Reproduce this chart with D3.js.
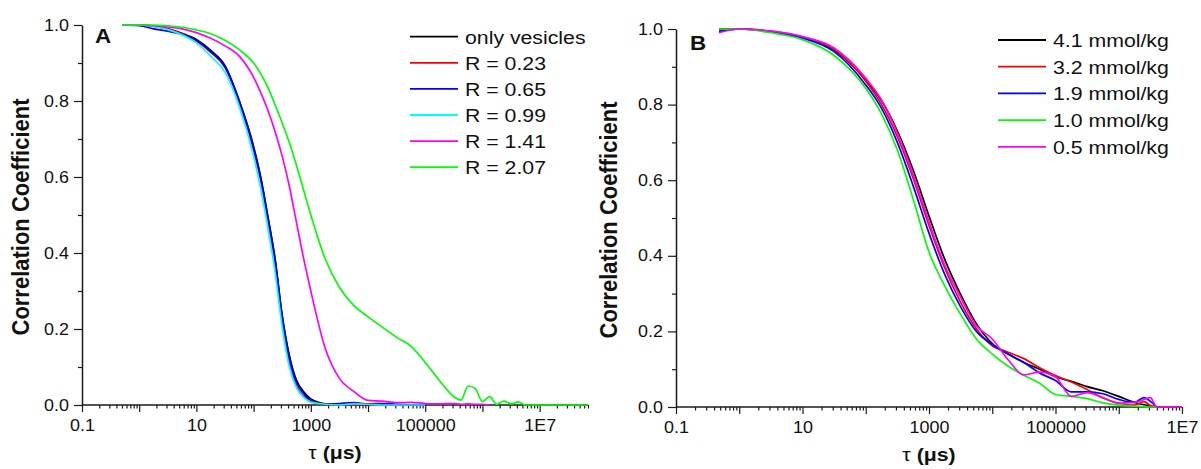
<!DOCTYPE html>
<html>
<head>
<meta charset="utf-8">
<script src="https://cdn.jsdelivr.net/npm/d3@7"></script>
<style>
  body { margin: 0; background: #fff; }
  svg text { font-family: Arial, "Liberation Sans", sans-serif; fill: #111; }
</style>
</head>
<body>
<div id="chart"></div>
<script>
// ---- data ----
const tauA = [0.5, 1, 1.78, 3.16, 5.62, 10, 17.8, 31.6, 56.2, 100, 133, 178, 237, 316, 422, 562, 750,
  1000, 1780, 3160, 5620, 1e4, 1.78e4, 3.16e4, 5.62e4, 1e5, 1.78e5, 3.16e5, 4.22e5, 5.62e5, 7.5e5,
  1e6, 1.33e6, 1.78e6, 2.37e6, 3.16e6, 4.22e6, 5.62e6, 1e7, 1.78e7, 3.16e7, 7e7]

const onlyVesicles = [1.0, 1.0, 0.997, 0.99, 0.978, 0.962, 0.933, 0.893, 0.80, 0.68, 0.60, 0.495, 0.385,
  0.235, 0.13, 0.065, 0.035, 0.016, 0.003, 0.0, 0.002, 0.0, 0.001, 0.0, 0.0, 0.0]
const r023 = [1.0, 1.0, 0.997, 0.99, 0.977, 0.958, 0.928, 0.888, 0.795, 0.67, 0.59, 0.485, 0.37, 0.22,
  0.11, 0.05, 0.022, 0.008, 0.001, 0.0, 0.0, 0.0, 0.0, 0.0, 0.0, 0.0]
const r065 = [1.0, 0.998, 0.99, 0.984, 0.975, 0.96, 0.93, 0.89, 0.80, 0.677, 0.597, 0.493, 0.383, 0.233,
  0.125, 0.06, 0.03, 0.012, 0.002, 0.004, 0.006, 0.003, 0.004, 0.002, 0.0, 0.0]
const r099 = [1.0, 1.0, 0.996, 0.988, 0.974, 0.953, 0.918, 0.876, 0.785, 0.655, 0.57, 0.465, 0.35, 0.205,
  0.1, 0.045, 0.02, 0.008, 0.002, 0.0, 0.003, 0.002, 0.0, 0.0, 0.0, 0.0]
const r141 = [1.0, 1.0, 0.998, 0.995, 0.99, 0.98, 0.965, 0.945, 0.918, 0.862, 0.822, 0.775, 0.72, 0.655,
  0.575, 0.48, 0.385, 0.3, 0.15, 0.07, 0.036, 0.012, 0.01, 0.006, 0.007, 0.004, 0.003, 0.004, 0.002,
  0.003, 0.002, 0.002, 0.0]
const r207 = [1.0, 1.0, 1.0, 0.998, 0.994, 0.987, 0.977, 0.96, 0.935, 0.9, 0.872, 0.835, 0.79, 0.742,
  0.69, 0.63, 0.565, 0.5, 0.385, 0.31, 0.262, 0.232, 0.205, 0.178, 0.155, 0.112, 0.064, 0.022, 0.013,
  0.05, 0.043, 0.009, 0.022, 0.002, 0.01, 0.003, 0.008, 0.0, 0.0, 0.0, 0.0, 0.0]

const namesA = ['only vesicles', 'R = 0.23', 'R = 0.65', 'R = 0.99', 'R = 1.41', 'R = 2.07']
const colorsA = ['#000000', '#ff0000', '#0000ff', '#00ffff', '#ff00ff', '#00ff00']

const tauB = [0.48, 1, 3.16, 10, 31.6, 100, 178, 316, 562, 1000, 1780, 3160, 5620, 1e4, 1.78e4, 3.16e4,
  5.62e4, 1e5, 1.78e5, 3.16e5, 5.62e5, 1e6, 1.78e6, 2.5e6, 3.16e6, 4e6, 1e7]

const c41 = [1.0, 1.0, 0.993, 0.978, 0.944, 0.865, 0.81, 0.73, 0.627, 0.505, 0.39, 0.298, 0.22, 0.168,
  0.14, 0.118, 0.1, 0.08, 0.068, 0.054, 0.043, 0.028, 0.012, 0.006, 0.003, 0.0]
const c32 = [0.995, 1.0, 0.994, 0.979, 0.946, 0.862, 0.8, 0.715, 0.605, 0.48, 0.367, 0.277, 0.207, 0.162,
  0.145, 0.128, 0.104, 0.083, 0.066, 0.046, 0.024, 0.01, 0.005, 0.014, 0.004, 0.0]
const c19 = [0.993, 1.0, 0.993, 0.976, 0.94, 0.852, 0.79, 0.7, 0.585, 0.46, 0.35, 0.265, 0.2, 0.165,
  0.14, 0.118, 0.09, 0.07, 0.04, 0.04, 0.035, 0.02, 0.012, 0.025, 0.015, 0.0]
const c10 = [1.0, 1.0, 0.99, 0.972, 0.93, 0.843, 0.775, 0.68, 0.55, 0.41, 0.32, 0.245, 0.18, 0.14,
  0.108, 0.084, 0.063, 0.033, 0.028, 0.022, 0.011, 0.005, 0.002, 0.001, 0.0, 0.0]
const c05 = [0.99, 1.0, 0.995, 0.98, 0.95, 0.87, 0.812, 0.725, 0.615, 0.49, 0.375, 0.29, 0.215, 0.18,
  0.125, 0.085, 0.092, 0.08, 0.028, 0.038, 0.025, 0.01, 0.012, 0.02, 0.025, 0.0, 0.0]

const namesB = ['4.1 mmol/kg', '3.2 mmol/kg', '1.9 mmol/kg', '1.0 mmol/kg', '0.5 mmol/kg']
const colorsB = ['#000000', '#ff0000', '#0000ff', '#00ff00', '#ff00ff']

const xTickValues = [0.1, 10, 1000, 1e5, 1e7]
const xTickLabels = ['0.1', '10', '1000', '100000', '1E7']
const yTickValues = [0, 0.2, 0.4, 0.6, 0.8, 1.0]

// ---- layout ----
const SX = 1.12 // the figure is a little wider than tall, text included
const width = 1201
const height = 469

const panels = [
  { letter: 'A', tau: tauA, series: [onlyVesicles, r023, r065, r099, r141, r207], names: namesA, colors: colorsA,
    xDomain: [0.1, 7e7], xRange: [82, 588], yRange: [405, 25],
    letterPos: [95, 43], legend: { x: 410, y: 36.7, step: 26.1 }, yTitleX: 29, titleY: 459 },
  { letter: 'B', tau: tauB, series: [c41, c32, c19, c10, c05], names: namesB, colors: colorsB,
    xDomain: [0.1, 1e7], xRange: [676, 1182], yRange: [407, 29],
    letterPos: [690, 50], legend: { x: 998, y: 40, step: 26.7 }, yTitleX: 617, titleY: 461 }
]

const svg = d3.select('#chart').append('svg')
  .attr('width', width)
  .attr('height', height)

function stretch(sel) {
  sel.each(function() {
    const t = d3.select(this)
    const x = +t.attr('x') || 0
    const y = +t.attr('y') || 0
    t.attr('x', null).attr('y', null)
      .attr('transform', `translate(${x},${y}) scale(${SX},1)`)
  })
}

panels.forEach(function(p) {
  const x = d3.scaleLog().domain(p.xDomain).range(p.xRange)
  const y = d3.scaleLinear().domain([0, 1]).range(p.yRange)
  const g = svg.append('g')

  // minor ticks first
  const decades = []
  const minors = []
  for (let e = -1; e <= 8; e++) {
    for (let k = 1; k <= 9; k++) {
      const v = k * Math.pow(10, e)
      if (v < p.xDomain[0] || v > p.xDomain[1] * 1.0001) continue
      if (k === 1) { if (xTickValues.indexOf(v) < 0) decades.push(v) }
      else minors.push(v)
    }
  }

  const y0 = p.yRange[0]
  const x0 = p.xRange[0]

  g.append('g')
    .attr('transform', `translate(0,${y0})`)
    .call(d3.axisBottom(x).tickValues(minors).tickSize(3.5).tickFormat(''))
    .call(s => s.select('.domain').remove())
  g.append('g')
    .attr('transform', `translate(0,${y0})`)
    .call(d3.axisBottom(x).tickValues(decades).tickSize(7).tickFormat(''))
    .call(s => s.select('.domain').remove())
  g.append('g')
    .attr('transform', `translate(${x0},0)`)
    .call(d3.axisLeft(y).tickValues([0.1, 0.3, 0.5, 0.7, 0.9]).tickSize(4).tickFormat(''))
    .call(s => s.select('.domain').remove())

  const xAxis = g.append('g')
    .attr('class', 'x-axis')
    .attr('transform', `translate(0,${y0})`)
    .call(d3.axisBottom(x)
      .tickValues(xTickValues)
      .tickSize(7)
      .tickSizeOuter(0)
      .tickPadding(8)
      .tickFormat((d, i) => xTickLabels[i]))
  xAxis.select('.domain').attr('d', `M${p.xRange[0]},0H${p.xRange[1]}`)

  g.append('g')
    .attr('class', 'y-axis')
    .attr('transform', `translate(${x0},0)`)
    .call(d3.axisLeft(y)
      .tickValues(yTickValues)
      .tickSize(8)
      .tickSizeOuter(0)
      .tickPadding(5)
      .tickFormat(d3.format('.1f')))

  g.selectAll('.tick line').attr('stroke', '#1a1a1a').attr('stroke-width', 1.2)
  g.selectAll('.domain').attr('stroke', '#1a1a1a').attr('stroke-width', 1.5)
  g.selectAll('.tick text')
    .attr('fill', '#111')
    .style('font-size', '16px')
    .style('font-family', 'Arial, "Liberation Sans", sans-serif')
    .call(stretch)

  // curves
  const line = d3.line()
    .x(d => x(d[0]))
    .y(d => y(d[1]))
    .curve(d3.curveMonotoneX)

  p.series.forEach(function(vals, i) {
    const pts = vals.map((v, j) => [p.tau[j], v])
    g.append('path')
      .datum(pts)
      .attr('fill', 'none')
      .attr('stroke', p.colors[i])
      .attr('stroke-width', 1.7)
      .attr('stroke-linejoin', 'round')
      .attr('d', line)
  })

  // panel letter
  g.append('text')
    .attr('x', p.letterPos[0])
    .attr('y', p.letterPos[1])
    .style('font-size', '20px')
    .style('font-weight', 'bold')
    .text(p.letter)
    .call(stretch)

  // legend
  const leg = g.append('g')
  p.names.forEach(function(name, i) {
    const ly = p.legend.y + i * p.legend.step
    leg.append('line')
      .attr('x1', p.legend.x)
      .attr('x2', p.legend.x + 48)
      .attr('y1', ly)
      .attr('y2', ly)
      .attr('stroke', p.colors[i])
      .attr('stroke-width', 1.8)
    leg.append('text')
      .attr('x', p.legend.x + 55)
      .attr('y', ly + 7)
      .style('font-size', '19px')
      .text(name)
      .call(stretch)
  })

  // axis titles
  const xt = g.append('text')
    .attr('x', (p.xRange[0] + p.xRange[1]) / 2)
    .attr('y', p.titleY)
    .attr('text-anchor', 'middle')
    .style('font-size', '19px')
    .style('font-weight', 'bold')
  xt.append('tspan').style('font-weight', 'normal').text('τ')
  xt.append('tspan').text(' (μs)')
  xt.call(stretch)

  g.append('text')
    .attr('text-anchor', 'middle')
    .attr('transform', `translate(${p.yTitleX},${(p.yRange[0] + p.yRange[1]) / 2 + 2}) scale(${SX},1) rotate(-90)`)
    .style('font-size', '22px')
    .style('font-weight', 'bold')
    .text('Correlation Coefficient')
})
</script>
</body>
</html>
